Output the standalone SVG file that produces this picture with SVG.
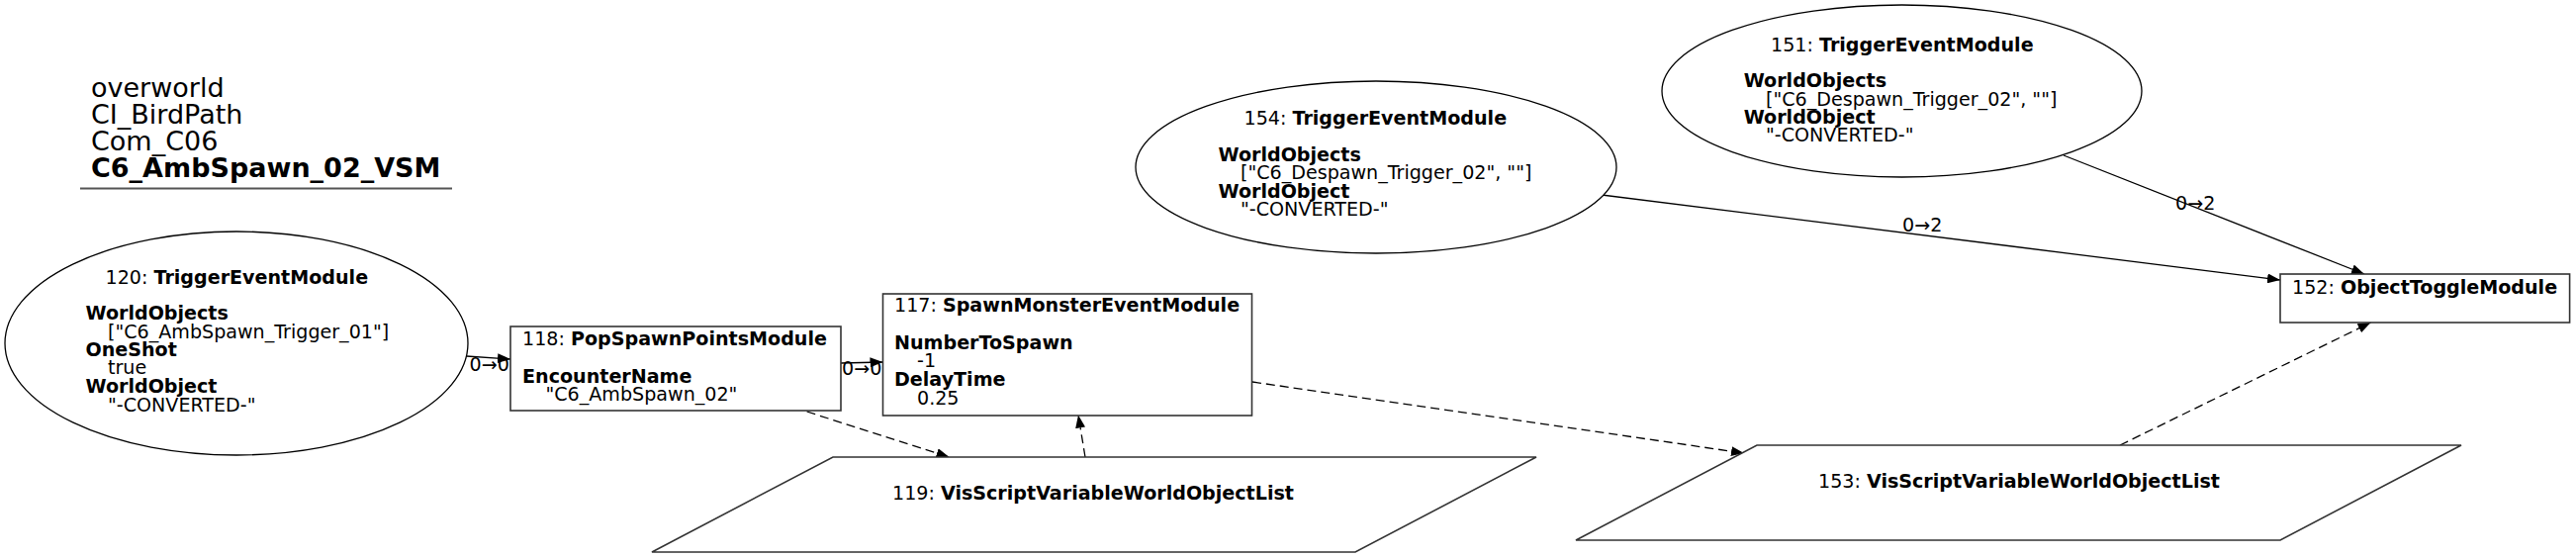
<svg xmlns="http://www.w3.org/2000/svg" width="2604" height="564" viewBox="0 0 2604 564">
<style>
text { font-family: "DejaVu Sans", "Liberation Sans", sans-serif; font-size: 19.1px; fill: #000; }
.b { font-weight: bold; }
.title { font-size: 27px; }
.node { fill: #fff; stroke: #000; stroke-width: 1.3; }
.box { stroke: #333; stroke-width: 1.6; }
.edge { fill: none; stroke: #000; stroke-width: 1.3; }
.dash { stroke-dasharray: 9,5; }
</style>
<defs>
<marker id="arr" viewBox="0 0 13 10" refX="13" refY="5" markerWidth="13" markerHeight="10" markerUnits="userSpaceOnUse" orient="auto">
<path d="M0,0 L13,5 L0,10 z" fill="#000"/>
</marker>
</defs>
<rect x="0" y="0" width="2604" height="564" fill="#fff"/>
<g id="title">
<text class="title" x="92" y="98">overworld</text>
<text class="title" x="92" y="125">CI_BirdPath</text>
<text class="title" x="92" y="152">Com_C06</text>
<text class="title b" x="92" y="179">C6_AmbSpawn_02_VSM</text>
<line x1="81" y1="190.5" x2="457" y2="190.5" stroke="#555" stroke-width="2"/>
</g>
<g id="connectors">
<path class="edge" d="M471.5,360 L516,363" marker-end="url(#arr)"/>
<text x="474.5" y="375">0→0</text>
<path class="edge" d="M850,367 L892.5,366" marker-end="url(#arr)"/>
<text x="851" y="379">0→0</text>
<path class="edge dash" d="M815.6,416 L959.5,462" marker-end="url(#arr)"/>
<path class="edge dash" d="M1097,462 L1090,419.5" marker-end="url(#arr)"/>
<path class="edge dash" d="M1266,386 L1763,458" marker-end="url(#arr)"/>
<path class="edge" d="M1619,197 L2305,283" marker-end="url(#arr)"/>
<text x="1923" y="234">0→2</text>
<path class="edge" d="M2086,157 L2390,277" marker-end="url(#arr)"/>
<text x="2199" y="212">0→2</text>
<path class="edge dash" d="M2143,450 L2396.5,326" marker-end="url(#arr)"/>
</g>
<g id="node120">
<ellipse class="node" cx="239" cy="347" rx="234" ry="113"/>
<text x="106.5" y="286.5">120: <tspan class="b">TriggerEventModule</tspan></text>
<text class="b" x="86.5" y="323.3">WorldObjects</text>
<text x="109" y="341.5">["C6_AmbSpawn_Trigger_01"]</text>
<text class="b" x="86.5" y="360">OneShot</text>
<text x="109" y="378.3">true</text>
<text class="b" x="86.5" y="397">WorldObject</text>
<text x="109" y="415.5">"-CONVERTED-"</text>
</g>
<g id="node118">
<rect class="node box" x="516" y="330" width="334" height="85"/>
<text x="528" y="349">118: <tspan class="b">PopSpawnPointsModule</tspan></text>
<text class="b" x="528" y="386.5">EncounterName</text>
<text x="551.5" y="405">"C6_AmbSpawn_02"</text>
</g>
<g id="node117">
<rect class="node box" x="892.5" y="297" width="373" height="123"/>
<text x="904" y="315">117: <tspan class="b">SpawnMonsterEventModule</tspan></text>
<text class="b" x="904" y="352.5">NumberToSpawn</text>
<text x="927" y="371">-1</text>
<text class="b" x="904" y="389.8">DelayTime</text>
<text x="927" y="408.5">0.25</text>
</g>
<g id="node119">
<polygon class="node box" points="842,462 1553,462 1370,558 659,558"/>
<text x="902" y="505">119: <tspan class="b">VisScriptVariableWorldObjectList</tspan></text>
</g>
<g id="node154">
<ellipse class="node" cx="1391" cy="169" rx="243" ry="87"/>
<text x="1257.5" y="126.3">154: <tspan class="b">TriggerEventModule</tspan></text>
<text class="b" x="1231.5" y="162.7">WorldObjects</text>
<text x="1254" y="181.2">["C6_Despawn_Trigger_02", ""]</text>
<text class="b" x="1231.5" y="199.6">WorldObject</text>
<text x="1254" y="218.2">"-CONVERTED-"</text>
</g>
<g id="node151">
<ellipse class="node" cx="1922.5" cy="92" rx="242.5" ry="87"/>
<text x="1790" y="51.5">151: <tspan class="b">TriggerEventModule</tspan></text>
<text class="b" x="1762.7" y="88.3">WorldObjects</text>
<text x="1785" y="106.5">["C6_Despawn_Trigger_02", ""]</text>
<text class="b" x="1762.7" y="124.6">WorldObject</text>
<text x="1785" y="143.2">"-CONVERTED-"</text>
</g>
<g id="node152">
<rect class="node box" x="2305" y="277" width="292.6" height="49"/>
<text x="2317" y="296.7">152: <tspan class="b">ObjectToggleModule</tspan></text>
</g>
<g id="node153">
<polygon class="node box" points="1776,450 2488,450 2305,546 1593,546"/>
<text x="1838" y="492.7">153: <tspan class="b">VisScriptVariableWorldObjectList</tspan></text>
</g>
</svg>
